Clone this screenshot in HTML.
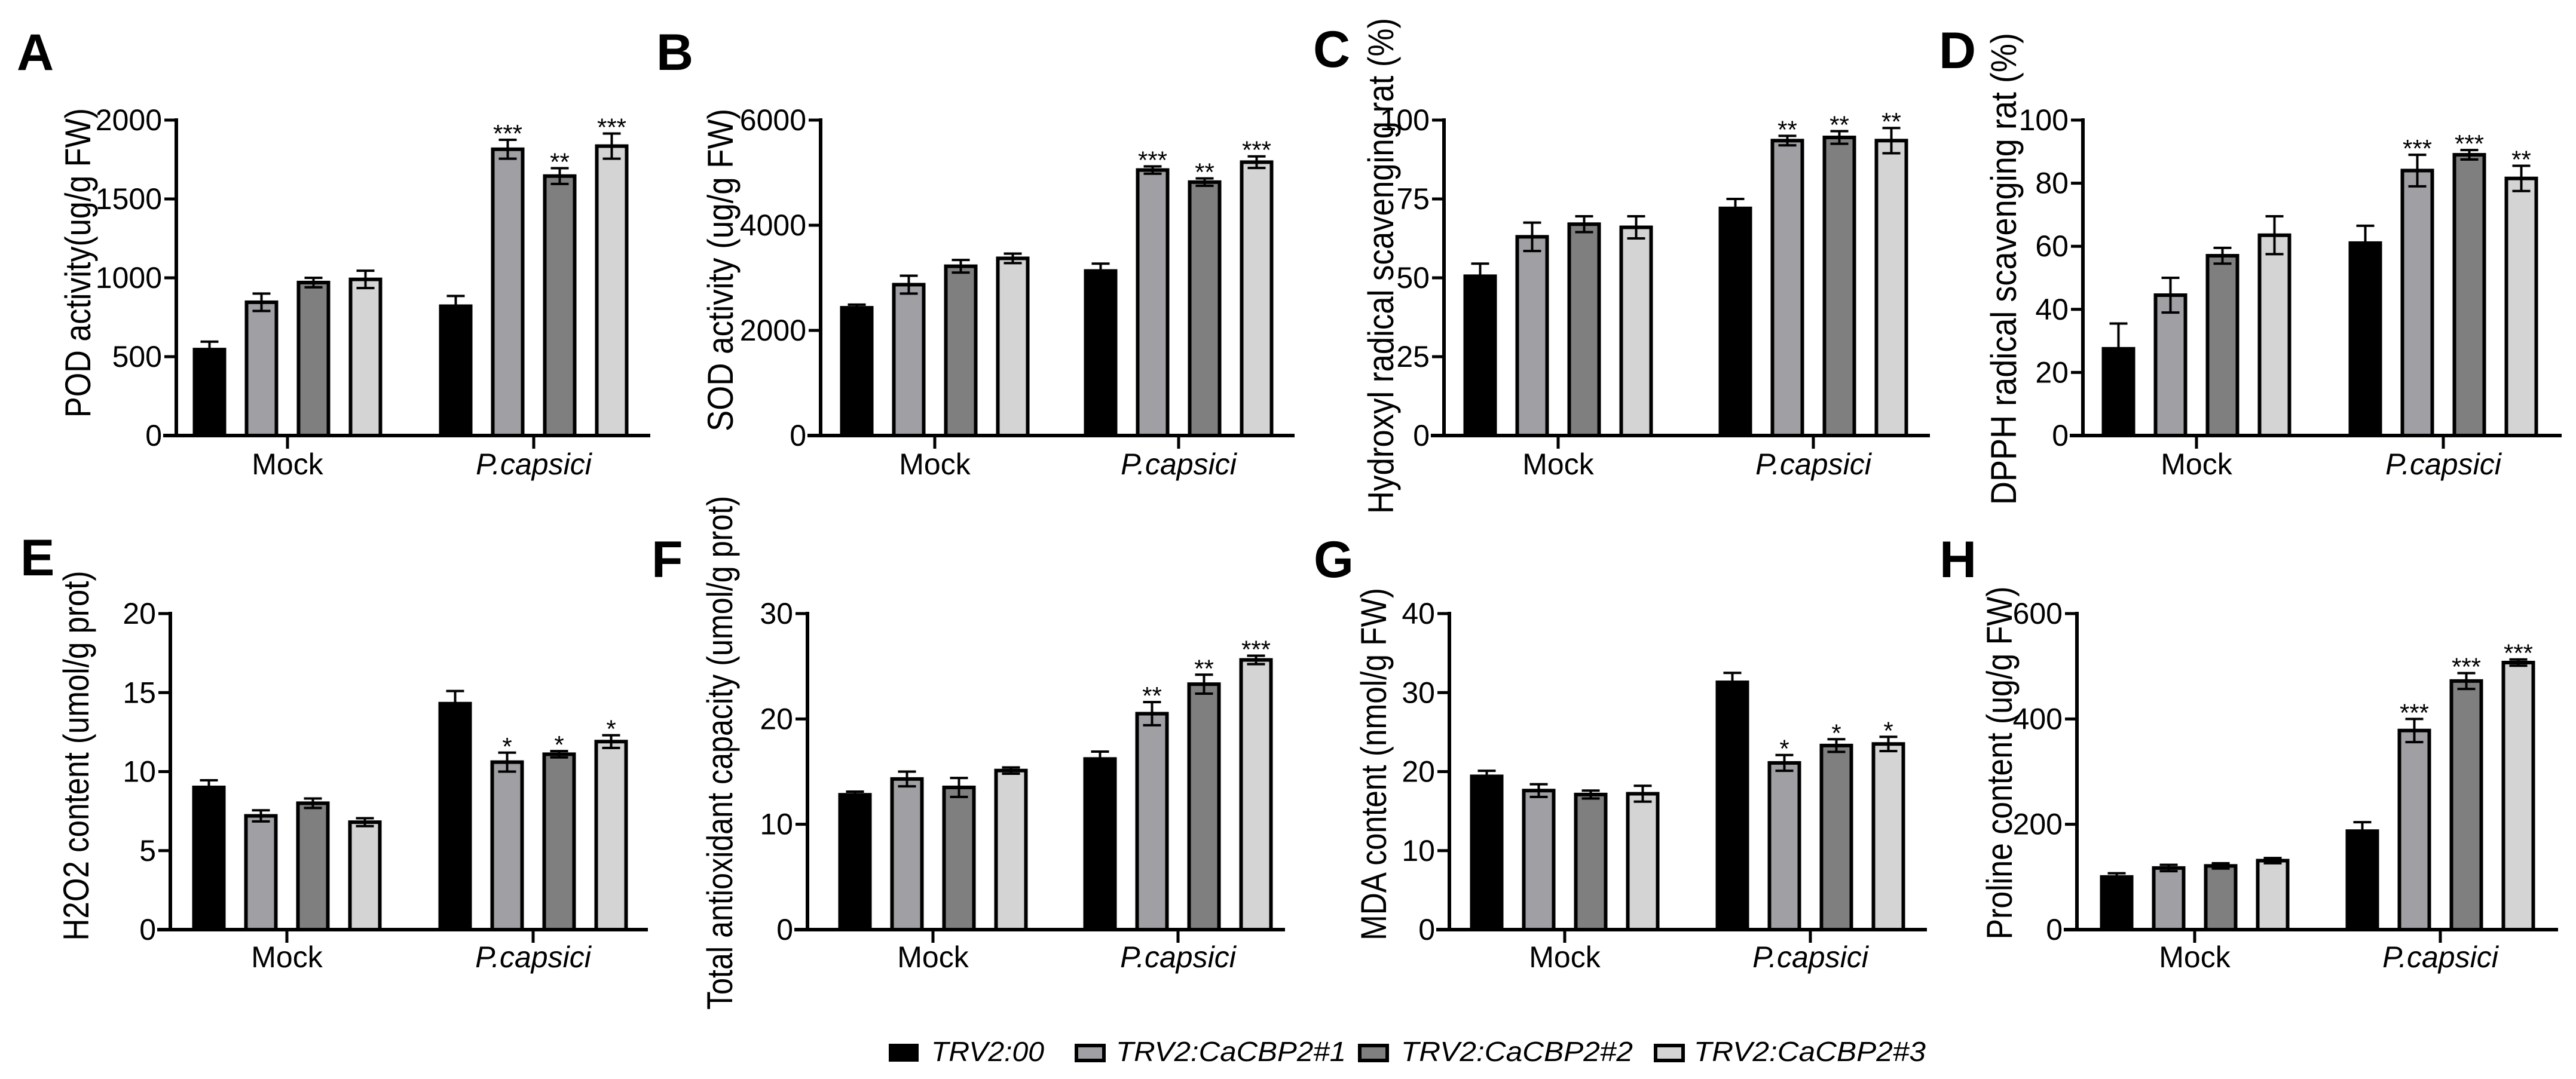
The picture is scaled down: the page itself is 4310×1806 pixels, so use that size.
<!DOCTYPE html>
<html><head><meta charset="utf-8">
<style>
html,body{margin:0;padding:0;background:#fff;}
svg{display:block;font-family:"Liberation Sans",Arial,sans-serif;}
</style></head>
<body>
<svg id="fig" width="4310" height="1806" viewBox="0 0 4310 1806" xmlns="http://www.w3.org/2000/svg">
  <g font-style="italic" font-size="46">
    <rect x="1487" y="1747" width="50" height="30" fill="#000"/>
    <text x="1558" y="1776" textLength="189" lengthAdjust="spacingAndGlyphs">TRV2:00</text>
    <rect x="1801" y="1750" width="46" height="25" fill="#a0a0a4" stroke="#000" stroke-width="6"/>
    <text x="1867" y="1776" textLength="385" lengthAdjust="spacingAndGlyphs">TRV2:CaCBP2#1</text>
    <rect x="2275" y="1750" width="46" height="25" fill="#7f7f7f" stroke="#000" stroke-width="6"/>
    <text x="2344" y="1776" textLength="388" lengthAdjust="spacingAndGlyphs">TRV2:CaCBP2#2</text>
    <rect x="2770" y="1750" width="46" height="25" fill="#d4d4d4" stroke="#000" stroke-width="6"/>
    <text x="2834" y="1776" textLength="388" lengthAdjust="spacingAndGlyphs">TRV2:CaCBP2#3</text>
  </g>
</svg>
<script>
// ---- data ----
const categories = ["Mock", "P.capsici"];
const seriesNames = ["TRV2:00", "TRV2:CaCBP2#1", "TRV2:CaCBP2#2", "TRV2:CaCBP2#3"];
const panelLetters = ["A","B","C","D","E","F","G","H"];
const yTitles = ["POD activity(ug/g FW)","SOD activity (ug/g FW)","Hydroxyl radical scavenging rat (%)","DPPH radical scavenging rat (%)",
  "H2O2 content (umol/g prot)","Total antioxidant capacity (umol/g prot)","MDA content (nmol/g FW)","Proline content (ug/g FW)"];
const yMax = [2000, 6000, 100, 100, 20, 30, 40, 600];
const yTicks = [[0,500,1000,1500,2000],[0,2000,4000,6000],[0,25,50,75,100],[0,20,40,60,80,100],
  [0,5,10,15,20],[0,10,20,30],[0,10,20,30,40],[0,200,400,600]];
// values: [mock x4, pcap x4]
const valA = [545, 845, 970, 990, 820, 1815, 1645, 1835];
const errA = [50, 55, 30, 55, 65, 60, 50, 80];
const valB = [2430, 2870, 3220, 3370, 3130, 5050, 4820, 5200];
const errB = [60, 170, 120, 90, 140, 70, 70, 110];
const valC = [50.5, 63, 67, 66, 72, 93.5, 94.5, 93.5];
const errC = [4, 4.5, 2.5, 3.5, 3, 1.5, 2, 4];
const valD = [27.5, 44.5, 57, 63.5, 61, 84, 89, 81.5];
const errD = [8, 5.5, 2.5, 6, 5.5, 5, 1.5, 4];
const valE = [9.0, 7.2, 8.0, 6.8, 14.3, 10.6, 11.1, 11.9];
const errE = [0.45, 0.35, 0.3, 0.25, 0.8, 0.6, 0.2, 0.4];
const valF = [12.8, 14.3, 13.5, 15.1, 16.2, 20.5, 23.3, 25.6];
const errF = [0.3, 0.7, 0.9, 0.3, 0.7, 1.1, 0.9, 0.4];
const valG = [19.4, 17.6, 17.1, 17.2, 31.3, 21.1, 23.3, 23.5];
const errG = [0.7, 0.8, 0.5, 1.0, 1.2, 1.0, 0.8, 0.9];
const valH = [100, 117, 121, 131, 187, 378, 472, 507];
const errH = [7, 6, 5, 5, 17, 22, 15, 6];
const starsA = ["","","","","","***","**","***"];
const starsB = ["","","","","","***","**","***"];
const starsC = ["","","","","","**","**","**"];
const starsD = ["","","","","","***","***","**"];
const starsE = ["","","","","","*","*","*"];
const starsF = ["","","","","","**","**","***"];
const starsG = ["","","","","","*","*","*"];
const starsH = ["","","","","","***","***","***"];
const allVals = [valA,valB,valC,valD,valE,valF,valG,valH];
const allErrs = [errA,errB,errC,errD,errE,errF,errG,errH];
const allStars = [starsA,starsB,starsC,starsD,starsE,starsF,starsG,starsH];

// ---- layout (pixels) ----
const layout = [
  {ax:295,end:1088,c:[481,893],row:0,lx:28,ly:117,tx:130,ty:440,tl:518},
  {ax:1373,end:2166,c:[1564,1972],row:0,lx:1098,ly:117,tx:1205,ty:452,tl:540},
  {ax:2416,end:3229,c:[2607,3034],row:0,lx:2197,ly:112,tx:2310,ty:445,tl:830},
  {ax:3485,end:4286,c:[3675,4088],row:0,lx:3244,ly:114,tx:3352,ty:450,tl:790},
  {ax:285,end:1084,c:[480,892],row:1,lx:34,ly:963,tx:127,ty:1265,tl:619},
  {ax:1351,end:2150,c:[1561,1971],row:1,lx:1090,ly:966,tx:1204,ty:1260,tl:860},
  {ax:2425,end:3224,c:[2618,3029],row:1,lx:2198,ly:966,tx:2298,ty:1279,tl:590},
  {ax:3475,end:4280,c:[3672,4083],row:1,lx:3245,ly:966,tx:3345,ty:1277,tl:591}
];
const rows = [{top:201,zero:729,lab:794},{top:1027,zero:1556,lab:1619}];
const fills = ["#000000","#a0a0a4","#7f7f7f","#d4d4d4"];
const offsets = [-130.5,-43.5,43.5,130.5];

const NS = "http://www.w3.org/2000/svg";
const svg = document.getElementById("fig");
function mk(tag, attrs, parent){
  const e = document.createElementNS(NS, tag);
  for (const k in attrs) e.setAttribute(k, attrs[k]);
  parent.appendChild(e);
  return e;
}

layout.forEach((L, p) => {
  const R = rows[L.row];
  const yScale = v => R.zero - (v / yMax[p]) * (R.zero - R.top);
  const g = mk("g", {}, svg);
  
  

  const letter = mk("text", {x:L.lx, y:L.ly, "font-size":86, "font-weight":"bold"}, g);
  
  
  letter.textContent = panelLetters[p];

  const title = mk("text", {x:0, y:0, "font-size":60, "text-anchor":"middle", textLength:L.tl, lengthAdjust:"spacingAndGlyphs",
    transform:"translate(" + (L.tx + 21) + "," + L.ty + ") rotate(-90)"}, g);
  
  
  title.textContent = yTitles[p];

  allVals[p].forEach((v, i) => {
    const grp = Math.floor(i / 4), s = i % 4;
    const cx = L.c[grp] + offsets[s];
    const yv = yScale(v);
    const bar = mk("rect", {x:cx - 25, y:yv, width:50, height:R.zero - yv, fill:fills[s], stroke:"#000", "stroke-width":6}, g);
    
    
    const e = allErrs[p][i];
    const yt = yScale(v + e), yb = yScale(v - e);
    const eb = mk("path", {d:"M" + cx + "," + yt + "V" + yb + "M" + (cx - 15) + "," + yt + "H" + (cx + 15) + "M" + (cx - 15) + "," + yb + "H" + (cx + 15),
      stroke:"#000", "stroke-width":4, fill:"none"}, g);
    
    
    if (allStars[p][i]) {
      const st = mk("text", {x:cx, y:yt + 4, "font-size":42, "text-anchor":"middle"}, g);
      
      
      st.textContent = allStars[p][i];
    }
  });

  const yax = mk("line", {x1:L.ax, y1:R.top - 3, x2:L.ax, y2:R.zero + 3, stroke:"#000", "stroke-width":6}, g);
  
  
  const xax = mk("line", {x1:L.ax - 22, y1:R.zero, x2:L.end, y2:R.zero, stroke:"#000", "stroke-width":6}, g);
  
  

  yTicks[p].forEach(t => {
    const y = yScale(t);
    const tk = mk("line", {x1:L.ax - 20, y1:y, x2:L.ax, y2:y, stroke:"#000", "stroke-width":5}, g);
    
    
    const tl = mk("text", {x:L.ax - 24, y:y + 17, "font-size":50, "text-anchor":"end"}, g);
    
    
    tl.textContent = t;
  });

  categories.forEach((c, k) => {
    const tk = mk("line", {x1:L.c[k], y1:R.zero, x2:L.c[k], y2:R.zero + 22, stroke:"#000", "stroke-width":5}, g);
    
    
    const lb = mk("text", {x:L.c[k], y:R.lab, "font-size":50, "text-anchor":"middle"}, g);
    if (k === 1) lb.setAttribute("font-style", "italic");
    
    
    lb.textContent = c;
  });
});
</script>
</body></html>
